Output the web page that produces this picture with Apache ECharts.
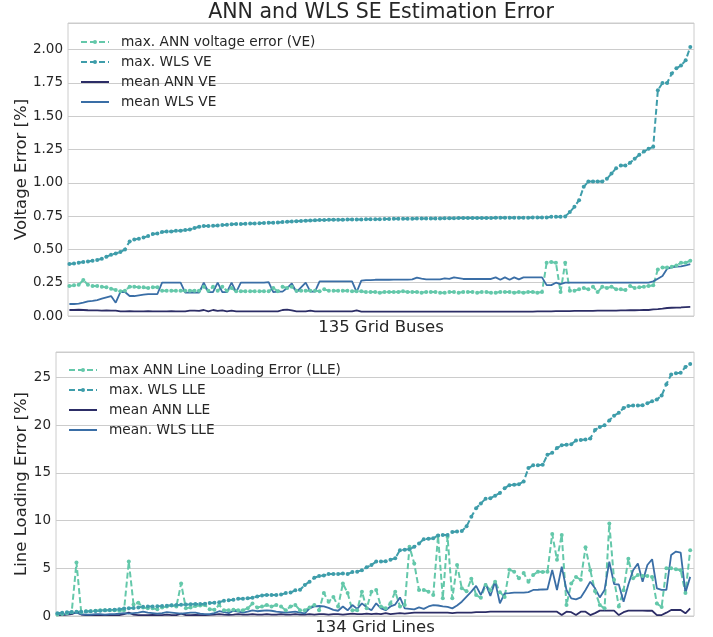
<!DOCTYPE html>
<html><head><meta charset="utf-8">
<script src="https://cdn.jsdelivr.net/npm/echarts@6/dist/echarts.min.js"></script>
<style>html,body{margin:0;padding:0;background:#fff}#c{width:713px;height:637px}</style>
</head><body><div id="c"></div>
<script>
// ---------- Top panel: 135 grid buses (voltage error, %) ----------
const maxAnnVE = [
0.225,0.23,0.235,0.27,0.235,0.225,0.225,0.22,0.215,0.205,
0.195,0.185,0.19,0.22,0.22,0.215,0.215,0.21,0.215,0.215,
0.19,0.19,0.19,0.19,0.19,0.19,0.19,0.19,0.19,0.22,
0.19,0.22,0.19,0.22,0.19,0.21,0.185,0.185,0.185,0.185,
0.185,0.185,0.185,0.185,0.21,0.185,0.22,0.21,0.22,0.19,
0.19,0.19,0.19,0.19,0.185,0.20,0.19,0.19,0.19,0.19,
0.19,0.185,0.185,0.185,0.18,0.18,0.18,0.175,0.18,0.18,
0.18,0.18,0.185,0.18,0.18,0.18,0.175,0.18,0.18,0.18,
0.175,0.175,0.18,0.18,0.175,0.18,0.18,0.18,0.175,0.18,
0.18,0.175,0.175,0.18,0.18,0.18,0.175,0.18,0.175,0.18,
0.18,0.175,0.18,0.40,0.405,0.40,0.18,0.40,0.19,0.19,
0.20,0.21,0.20,0.22,0.18,0.22,0.21,0.22,0.20,0.20,
0.195,0.225,0.21,0.215,0.22,0.225,0.23,0.35,0.365,0.365,
0.37,0.38,0.40,0.40,0.415];
const maxWlsVE = [
0.39,0.395,0.40,0.405,0.41,0.415,0.42,0.43,0.445,0.46,
0.47,0.48,0.50,0.56,0.575,0.58,0.59,0.60,0.615,0.62,
0.63,0.635,0.635,0.64,0.64,0.645,0.65,0.66,0.67,0.675,
0.675,0.678,0.68,0.683,0.685,0.688,0.69,0.69,0.692,0.694,
0.695,0.696,0.698,0.70,0.70,0.702,0.705,0.708,0.71,0.712,
0.714,0.716,0.717,0.719,0.72,0.721,0.722,0.722,0.723,0.723,
0.724,0.724,0.725,0.725,0.726,0.726,0.727,0.727,0.728,0.728,
0.73,0.73,0.73,0.731,0.731,0.732,0.732,0.732,0.733,0.733,
0.733,0.734,0.734,0.734,0.735,0.735,0.735,0.735,0.736,0.736,
0.736,0.736,0.737,0.737,0.737,0.737,0.738,0.738,0.738,0.738,
0.739,0.739,0.74,0.74,0.745,0.745,0.746,0.748,0.78,0.82,
0.87,0.97,1.01,1.01,1.01,1.01,1.03,1.07,1.11,1.13,
1.13,1.15,1.18,1.21,1.235,1.255,1.27,1.695,1.75,1.75,
1.82,1.86,1.88,1.92,2.02];
const meanAnnVE = [
0.045,0.045,0.047,0.045,0.043,0.042,0.042,0.04,0.042,0.04,
0.04,0.035,0.035,0.036,0.035,0.035,0.035,0.036,0.035,0.035,
0.035,0.035,0.036,0.035,0.035,0.035,0.04,0.04,0.038,0.045,
0.035,0.045,0.038,0.042,0.035,0.04,0.035,0.035,0.035,0.035,
0.035,0.035,0.035,0.035,0.035,0.035,0.045,0.048,0.042,0.035,
0.035,0.035,0.04,0.035,0.035,0.035,0.035,0.035,0.035,0.035,
0.035,0.035,0.042,0.033,0.033,0.033,0.033,0.033,0.033,0.033,
0.033,0.033,0.033,0.033,0.033,0.033,0.033,0.033,0.033,0.033,
0.033,0.033,0.033,0.033,0.033,0.033,0.033,0.033,0.033,0.033,
0.033,0.033,0.033,0.033,0.033,0.033,0.033,0.033,0.033,0.033,
0.033,0.034,0.034,0.035,0.035,0.036,0.036,0.037,0.037,0.038,
0.038,0.038,0.039,0.039,0.04,0.04,0.04,0.041,0.041,0.042,
0.042,0.043,0.043,0.044,0.045,0.045,0.05,0.052,0.055,0.06,
0.062,0.063,0.064,0.066,0.068];
const meanWlsVE = [
0.09,0.09,0.093,0.10,0.11,0.113,0.12,0.13,0.14,0.15,
0.10,0.18,0.18,0.15,0.15,0.155,0.16,0.165,0.165,0.165,
0.25,0.25,0.25,0.25,0.25,0.175,0.175,0.175,0.175,0.25,
0.18,0.18,0.25,0.18,0.18,0.25,0.18,0.25,0.25,0.25,
0.25,0.25,0.25,0.255,0.18,0.183,0.183,0.21,0.245,0.18,
0.215,0.25,0.183,0.183,0.26,0.26,0.26,0.26,0.26,0.26,
0.26,0.26,0.18,0.265,0.27,0.27,0.272,0.272,0.272,0.272,
0.273,0.273,0.273,0.273,0.275,0.288,0.28,0.275,0.275,0.275,
0.275,0.283,0.278,0.29,0.285,0.278,0.278,0.278,0.278,0.278,
0.278,0.278,0.29,0.272,0.29,0.272,0.29,0.275,0.29,0.29,
0.29,0.29,0.29,0.232,0.232,0.25,0.24,0.25,0.25,0.25,
0.25,0.25,0.25,0.25,0.25,0.25,0.25,0.25,0.25,0.25,
0.25,0.25,0.25,0.25,0.25,0.25,0.26,0.28,0.30,0.355,
0.365,0.37,0.372,0.38,0.39];

// ---------- Bottom panel: 134 grid lines (line loading error, %) ----------
const maxAnnLLE = [
0.15,0.2,0.3,0.4,5.6,0.4,0.5,0.5,0.55,0.6,
0.6,0.6,0.6,0.55,0.6,5.7,1.2,1.4,0.9,0.8,
0.8,0.7,0.9,1.0,1.1,1.0,3.4,0.8,0.9,1.05,
1.1,1.15,0.7,0.65,1.15,0.6,0.6,0.65,0.6,0.6,
0.8,1.3,0.9,1.0,1.15,1.0,1.15,1.0,0.6,1.0,
1.15,0.6,0.6,0.9,1.15,0.6,2.4,1.5,2.0,1.0,
3.4,2.4,0.6,0.6,2.55,0.8,2.55,2.73,1.0,0.8,
1.33,2.55,1.0,1.15,7.27,5.5,2.73,2.73,2.55,2.2,
8.4,1.85,8.3,1.85,5.35,2.9,2.6,3.9,2.2,1.9,
3.25,2.7,3.6,2.5,2.0,4.85,4.65,3.95,4.5,3.6,
4.3,4.65,4.6,4.65,8.6,5.9,8.5,1.15,3.4,4.1,
3.8,7.2,4.8,2.6,1.15,0.8,9.7,3.8,1.0,2.7,
6.0,3.95,4.3,4.2,4.2,4.1,1.3,0.95,5.0,5.0,
4.9,4.8,2.4,6.9];
const maxWlsLLE = [
0.3,0.35,0.4,0.42,0.45,0.45,0.47,0.5,0.52,0.55,
0.6,0.62,0.65,0.7,0.78,0.8,0.85,0.9,0.97,1.0,
1.0,1.02,1.05,1.08,1.12,1.15,1.17,1.2,1.22,1.25,
1.25,1.28,1.35,1.4,1.45,1.6,1.65,1.7,1.8,1.82,
1.85,1.9,2.05,2.15,2.2,2.2,2.2,2.25,2.4,2.45,
2.7,2.75,3.25,3.6,4.0,4.2,4.25,4.4,4.4,4.4,
4.45,4.4,4.6,4.65,4.8,5.1,5.35,5.7,5.7,5.75,
5.9,6.05,6.9,6.95,7.0,7.25,7.6,8.05,8.1,8.15,
8.45,8.5,8.5,8.8,8.85,8.9,9.4,10.4,11.3,11.8,
12.3,12.35,12.6,12.9,13.4,13.7,13.75,13.8,14.1,15.5,
15.8,15.8,15.85,16.9,17.1,17.6,17.9,17.95,18.0,18.4,
18.45,18.5,18.6,19.5,19.8,20.0,20.5,21.0,21.3,21.8,
22.0,22.05,22.05,22.1,22.3,22.5,22.7,23.1,24.3,25.3,
25.45,25.5,26.1,26.4];
const meanAnnLLE = [
0.1,0.1,0.15,0.2,0.4,0.15,0.1,0.1,0.1,0.12,
0.1,0.1,0.1,0.1,0.2,0.35,0.15,0.1,0.1,0.1,
0.12,0.1,0.1,0.15,0.1,0.1,0.25,0.1,0.1,0.12,
0.1,0.1,0.12,0.15,0.2,0.15,0.12,0.15,0.2,0.15,
0.15,0.2,0.15,0.15,0.2,0.15,0.15,0.2,0.15,0.15,
0.2,0.15,0.15,0.2,0.15,0.2,0.2,0.15,0.2,0.2,
0.15,0.2,0.25,0.2,0.2,0.25,0.2,0.25,0.2,0.3,
0.2,0.25,0.3,0.25,0.3,0.35,0.35,0.35,0.35,0.35,
0.35,0.35,0.35,0.3,0.35,0.35,0.35,0.35,0.4,0.4,
0.4,0.45,0.45,0.45,0.45,0.45,0.45,0.45,0.45,0.45,
0.45,0.45,0.45,0.45,0.45,0.45,0.1,0.45,0.4,0.1,
0.45,0.45,0.1,0.3,0.56,0.56,0.56,0.56,0.1,0.4,
0.56,0.56,0.56,0.56,0.55,0.55,0.1,0.1,0.35,0.63,
0.63,0.63,0.28,0.8];
const meanWlsLLE = [
0.15,0.2,0.2,0.3,0.35,0.2,0.15,0.15,0.2,0.2,
0.15,0.2,0.2,0.25,0.3,0.25,0.3,0.35,0.45,0.35,
0.3,0.25,0.3,0.4,0.35,0.3,0.25,0.3,0.35,0.35,
0.25,0.2,0.2,0.3,0.5,0.4,0.3,0.55,0.45,0.35,
0.45,0.6,0.5,0.55,0.6,0.55,0.45,0.4,0.35,0.4,
0.45,0.35,0.28,0.8,1.0,1.05,1.0,0.85,0.65,0.55,
1.0,0.6,1.15,0.75,1.33,0.9,0.6,1.33,0.8,0.6,
1.0,1.2,1.95,0.8,0.75,0.7,0.9,0.75,1.0,1.15,
1.1,1.0,0.95,0.8,1.1,1.5,2.03,2.55,3.15,2.2,
3.4,2.1,3.6,1.33,2.38,2.4,2.45,2.45,2.45,2.5,
2.73,2.75,2.78,2.8,4.83,2.73,5.18,2.73,1.85,1.75,
1.95,2.73,3.6,2.9,1.95,2.73,5.7,3.35,3.3,1.5,
3.3,4.8,5.5,3.6,5.35,5.95,2.9,2.73,2.73,6.4,
6.75,6.65,2.45,4.1];

const topTicks = { min: 0, max: 2.2, interval: 0.25 };
const botTicks = { min: 0, max: 27.67, interval: 5 };
const titleText = 'ANN and WLS SE Estimation Error';
const topNames = ['max. ANN voltage error (VE)', 'max. WLS VE', 'mean ANN VE', 'mean WLS VE'];
const botNames = ['max ANN Line Loading Error (LLE)', 'max. WLS LLE', 'mean ANN LLE', 'mean. WLS LLE'];

const FONT = 'DejaVu Sans';
const TXT = '#262626';
const GRID = '#cccccc';
const C_MAXANN = '#64c8aa', C_MAXWLS = '#3e9daa', C_MEANANN = '#2c2d66', C_MEANWLS = '#3a6ea6';

function pts(a) { return a.map((v, i) => [i, v]); }
function dashed(name, arr, color, ai) {
  return { name, type: 'line', xAxisIndex: ai, yAxisIndex: ai, data: pts(arr),
    symbol: 'circle', symbolSize: 4, showSymbol: true, showAllSymbol: true,
    lineStyle: { color, width: 2, type: [6, 3] }, itemStyle: { color },
    emphasis: { disabled: true }, animation: false };
}
function solid(name, arr, color, ai) {
  return { name, type: 'line', xAxisIndex: ai, yAxisIndex: ai, data: pts(arr),
    symbol: 'none', showSymbol: false,
    lineStyle: { color, width: 1.8 }, itemStyle: { color },
    emphasis: { disabled: true }, animation: false };
}
function yAx(t, name, gap, digits) {
  return { type: 'value', min: t.min, max: t.max, interval: t.interval,
    name, nameLocation: 'middle', nameGap: gap, nameMoveOverlap: false,
    nameTextStyle: { fontFamily: FONT, fontSize: 16.5, color: TXT },
    axisLine: { show: false }, axisTick: { show: false },
    splitLine: { show: true, lineStyle: { color: GRID, width: 1 } },
    axisLabel: { showMaxLabel: false, margin: 5, fontFamily: FONT, fontSize: 13.5, color: TXT,
      formatter: v => v.toFixed(digits) } };
}
function xAx(n, name) {
  return { type: 'value', min: -0.3, max: n - 0.2,
    name, nameLocation: 'middle', nameGap: 3, nameMoveOverlap: false,
    nameTextStyle: { fontFamily: FONT, fontSize: 16.5, color: TXT },
    axisLine: { show: false }, axisTick: { show: false }, axisLabel: { show: false },
    splitLine: { show: false } };
}
function legend(names, left, top) {
  return { orient: 'vertical', left, top, padding: 0, itemWidth: 28, itemHeight: 5, itemGap: 6,
    selectedMode: false,
    data: names.map((n, k) => k < 2 ? { name: n } : { name: n, itemStyle: { opacity: 0 } }),
    textStyle: { fontFamily: FONT, fontSize: 13.7, color: TXT, lineHeight: 14, padding: [0, 0, 0, 7] } };
}

const chart = echarts.init(document.getElementById('c'));
chart.setOption({
  backgroundColor: '#ffffff',
  animation: false,
  graphic: [{ type: 'text', x: 381, y: 13,
    style: { text: titleText, fontFamily: FONT, fontSize: 20.5, fill: TXT, textAlign: 'center', textVerticalAlign: 'middle' } }],
  grid: [
    { left: 68, right: 19, top: 23, height: 293, show: true, borderColor: GRID, borderWidth: 1 },
    { left: 56, right: 19, top: 352, height: 264, show: true, borderColor: GRID, borderWidth: 1 }
  ],
  xAxis: [ Object.assign(xAx(135, '135 Grid Buses'), { gridIndex: 0 }),
           Object.assign(xAx(134, '134 Grid Lines'), { gridIndex: 1 }) ],
  yAxis: [ Object.assign(yAx(topTicks, 'Voltage Error [%]', 38, 2), { gridIndex: 0 }),
           Object.assign(yAx(botTicks, 'Line Loading Error [%]', 26, 0), { gridIndex: 1 }) ],
  legend: [ legend(topNames, 80, 35), legend(botNames, 68, 363) ],
  series: [
    dashed(topNames[0], maxAnnVE, C_MAXANN, 0),
    dashed(topNames[1], maxWlsVE, C_MAXWLS, 0),
    solid(topNames[2], meanAnnVE, C_MEANANN, 0),
    solid(topNames[3], meanWlsVE, C_MEANWLS, 0),
    dashed(botNames[0], maxAnnLLE, C_MAXANN, 1),
    dashed(botNames[1], maxWlsLLE, C_MAXWLS, 1),
    solid(botNames[2], meanAnnLLE, C_MEANANN, 1),
    solid(botNames[3], meanWlsLLE, C_MEANWLS, 1)
  ]
});
</script></body></html>
